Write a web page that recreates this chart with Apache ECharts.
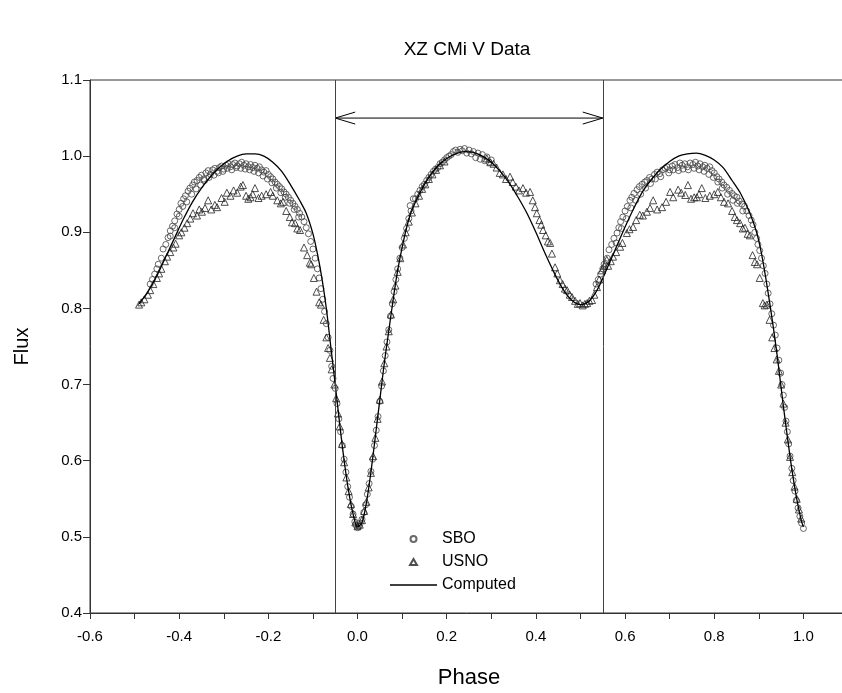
<!DOCTYPE html>
<html>
<head>
<meta charset="utf-8">
<script src="https://cdn.jsdelivr.net/npm/echarts@6/dist/echarts.min.js"></script>
<style>
  html, body { margin: 0; padding: 0; background: #fff; }
  #charts { width: 842px; height: 693px; }
</style>
</head>
<body>
<div id="charts"></div>
<script>
// phase / flux pairs
var sboLeft = [
  [-0.465,0.832],[-0.46,0.838],[-0.455,0.845],[-0.45,0.852],[-0.447,0.858],[-0.44,0.866],[-0.436,0.878],[-0.43,0.884],
  [-0.425,0.893],[-0.42,0.902],[-0.42,0.895],[-0.415,0.908],[-0.41,0.915],[-0.41,0.906],[-0.405,0.924],[-0.40,0.930],[-0.40,0.921],
  [-0.396,0.938],[-0.392,0.934],[-0.39,0.944],[-0.386,0.948],[-0.383,0.940],[-0.38,0.954],[-0.376,0.958],[-0.372,0.950],
  [-0.37,0.962],[-0.366,0.966],[-0.362,0.957],[-0.36,0.968],[-0.355,0.972],[-0.352,0.962],[-0.35,0.975],[-0.345,0.970],
  [-0.343,0.968],[-0.34,0.978],[-0.335,0.981],[-0.333,0.972],[-0.33,0.976],[-0.325,0.982],[-0.322,0.975],[-0.32,0.984],
  [-0.315,0.980],[-0.312,0.978],[-0.31,0.985],[-0.305,0.987],[-0.302,0.980],[-0.30,0.983],[-0.295,0.988],[-0.292,0.984],
  [-0.29,0.990],[-0.285,0.986],[-0.282,0.982],[-0.28,0.989],[-0.275,0.991],[-0.272,0.985],[-0.27,0.987],[-0.265,0.990],
  [-0.262,0.984],[-0.26,0.992],[-0.255,0.988],[-0.252,0.983],[-0.25,0.990],[-0.245,0.986],[-0.242,0.982],[-0.24,0.989],
  [-0.235,0.985],[-0.232,0.980],[-0.23,0.988],[-0.225,0.984],[-0.222,0.978],[-0.22,0.986],[-0.215,0.982],[-0.212,0.974],
  [-0.21,0.979],[-0.205,0.981],[-0.202,0.970],[-0.20,0.976],[-0.195,0.973],[-0.192,0.965],[-0.19,0.970],[-0.185,0.966],
  [-0.182,0.958],[-0.18,0.963],[-0.175,0.960],[-0.172,0.952],[-0.17,0.957],[-0.165,0.953],[-0.162,0.946],[-0.16,0.950],
  [-0.155,0.946],[-0.152,0.938],[-0.15,0.942],[-0.145,0.938],[-0.142,0.930],[-0.14,0.934],[-0.135,0.930],[-0.132,0.920],
  [-0.13,0.925],[-0.125,0.920],[-0.12,0.914],[-0.115,0.906],[-0.11,0.898],[-0.105,0.888],[-0.10,0.878],[-0.095,0.866],
  [-0.09,0.852],[-0.086,0.840],[-0.082,0.826],[-0.078,0.812],[-0.074,0.796],[-0.07,0.780],[-0.066,0.762],[-0.062,0.745],
  [-0.058,0.724],[-0.055,0.708]
];
var sboEclipse = [
  [-0.05,0.695],[-0.046,0.675],[-0.042,0.655],[-0.038,0.638],[-0.034,0.620],[-0.03,0.602],[-0.026,0.585],[-0.022,0.566],
  [-0.018,0.552],[-0.014,0.540],[-0.01,0.530],[-0.006,0.520],[-0.003,0.515],[0.0,0.512],[0.003,0.514],[0.006,0.518],
  [0.01,0.523],[0.014,0.532],[0.018,0.542],[0.022,0.556],[0.026,0.570],[0.03,0.586],[0.034,0.602],[0.038,0.620],
  [0.042,0.640],[0.046,0.658],[0.05,0.678],[0.054,0.698],[0.058,0.718],[0.062,0.738],[0.066,0.756],[0.07,0.772],
  [0.074,0.790],[0.078,0.806],[0.082,0.822],[0.086,0.838],[0.09,0.852],[0.095,0.866],[0.10,0.880],[0.105,0.892],
  [0.11,0.905],[0.115,0.918],[0.118,0.935],[0.12,0.928],[0.125,0.944],[0.13,0.944],[0.135,0.950],[0.14,0.955],
  [0.145,0.960],[0.15,0.963],[0.155,0.968],[0.16,0.972],[0.165,0.976],[0.17,0.980],[0.175,0.983],[0.18,0.985],
  [0.185,0.990],[0.19,0.992],[0.195,0.995],[0.20,0.998],[0.205,1.000],[0.21,1.002],[0.215,1.006],[0.22,1.008],
  [0.225,1.005],[0.23,1.009],[0.235,1.007],[0.24,1.010],[0.245,1.004],[0.25,1.008],[0.255,1.003],[0.26,1.006],
  [0.265,0.998],[0.27,1.004],[0.275,0.996],[0.28,1.002],[0.285,0.994],[0.29,0.999],[0.295,0.992],[0.30,0.995]
];
var sboRight = [
  [0.535,0.832],[0.54,0.838],[0.545,0.845],[0.55,0.852],[0.553,0.858],[0.56,0.866],[0.564,0.877],[0.57,0.884],
  [0.575,0.892],[0.58,0.886],[0.582,0.899],[0.586,0.906],[0.59,0.914],[0.592,0.905],[0.595,0.920],[0.6,0.928],[0.603,0.918],
  [0.605,0.934],[0.611,0.942],[0.613,0.932],[0.615,0.946],[0.62,0.951],[0.624,0.942],[0.627,0.956],[0.632,0.960],
  [0.635,0.950],[0.638,0.963],[0.644,0.966],[0.646,0.958],[0.649,0.968],[0.655,0.972],[0.657,0.964],[0.66,0.970],
  [0.666,0.976],[0.668,0.970],[0.672,0.979],[0.678,0.977],[0.68,0.973],[0.684,0.982],[0.69,0.984],[0.694,0.986],
  [0.698,0.978],[0.7,0.982],[0.706,0.987],[0.708,0.982],[0.712,0.989],[0.718,0.985],[0.72,0.981],[0.723,0.991],
  [0.728,0.988],[0.73,0.983],[0.734,0.990],[0.74,0.986],[0.742,0.982],[0.746,0.991],[0.752,0.989],[0.755,0.984],
  [0.758,0.992],[0.763,0.987],[0.766,0.982],[0.768,0.990],[0.774,0.986],[0.777,0.980],[0.779,0.988],[0.784,0.984],
  [0.788,0.976],[0.79,0.986],[0.795,0.981],[0.798,0.972],[0.8,0.978],[0.806,0.973],[0.808,0.966],[0.811,0.970],
  [0.817,0.966],[0.818,0.958],[0.822,0.962],[0.828,0.959],[0.83,0.950],[0.834,0.955],[0.84,0.951],[0.842,0.942],
  [0.845,0.948],[0.851,0.946],[0.852,0.938],[0.856,0.941],[0.862,0.937],[0.864,0.928],[0.868,0.934],[0.873,0.928],
  [0.878,0.922],[0.883,0.916],[0.887,0.910],[0.891,0.900],[0.895,0.892],[0.898,0.884],[0.902,0.876],[0.906,0.866],
  [0.91,0.856],[0.914,0.846],[0.918,0.832],[0.921,0.820],[0.925,0.806],[0.929,0.793],[0.933,0.778],[0.937,0.765],
  [0.941,0.748],[0.945,0.732],[0.949,0.715],[0.952,0.700],[0.955,0.686],[0.958,0.670],[0.961,0.652],[0.964,0.638],
  [0.967,0.622],[0.97,0.606],[0.974,0.590],[0.977,0.574],[0.981,0.560],[0.984,0.548],[0.988,0.538],[0.992,0.527],
  [0.996,0.518],[1.0,0.511]
];
var usnoLeft = [
  [-0.49,0.805],[-0.485,0.808],[-0.478,0.812],[-0.47,0.818],[-0.465,0.824],[-0.458,0.832],[-0.45,0.840],[-0.445,0.846],
  [-0.44,0.852],[-0.432,0.862],[-0.427,0.868],[-0.42,0.874],[-0.413,0.880],[-0.408,0.885],[-0.40,0.896],[-0.395,0.900],
  [-0.388,0.906],[-0.382,0.912],[-0.375,0.918],[-0.369,0.925],[-0.36,0.922],[-0.355,0.930],[-0.349,0.927],[-0.342,0.932],
  [-0.335,0.942],[-0.328,0.930],[-0.32,0.936],[-0.315,0.933],[-0.305,0.945],[-0.298,0.940],[-0.293,0.952],[-0.285,0.948],
  [-0.278,0.955],[-0.27,0.952],[-0.262,0.960],[-0.257,0.962],[-0.25,0.948],[-0.245,0.944],[-0.24,0.946],[-0.235,0.950],
  [-0.23,0.958],[-0.222,0.945],[-0.215,0.948],[-0.205,0.950],[-0.195,0.953],[-0.19,0.948],[-0.18,0.942],[-0.172,0.938],
  [-0.167,0.940],[-0.16,0.928],[-0.152,0.920],[-0.147,0.913],[-0.14,0.912],[-0.135,0.905],[-0.129,0.903],[-0.12,0.880],
  [-0.113,0.870],[-0.107,0.860],[-0.104,0.858],[-0.098,0.840],[-0.092,0.822],[-0.086,0.808],[-0.082,0.805],[-0.076,0.785],
  [-0.07,0.762],[-0.066,0.748],[-0.062,0.735],[-0.058,0.720]
];
var usnoMid = [
  [-0.052,0.700],[-0.048,0.682],[-0.044,0.662],[-0.04,0.645],[-0.035,0.622],[-0.03,0.598],[-0.025,0.578],[-0.02,0.560],
  [-0.015,0.543],[-0.01,0.530],[-0.005,0.519],[0.0,0.514],[0.005,0.516],[0.01,0.522],[0.015,0.534],[0.02,0.546],
  [0.025,0.565],[0.03,0.584],[0.035,0.606],[0.04,0.630],[0.045,0.655],[0.05,0.680],[0.055,0.704],[0.06,0.728],
  [0.065,0.750],[0.07,0.770],[0.075,0.792],[0.08,0.812],[0.085,0.830],[0.09,0.848],[0.096,0.866],[0.102,0.884],
  [0.108,0.900],[0.115,0.914],[0.122,0.926],[0.13,0.938],[0.138,0.948],[0.145,0.957],[0.152,0.963],[0.16,0.970],
  [0.168,0.976],[0.176,0.982],[0.185,0.988],[0.195,0.993],[0.29,0.997],[0.298,0.992],[0.305,0.990],[0.312,0.985],
  [0.319,0.978],[0.326,0.976],[0.333,0.970],[0.342,0.973],[0.348,0.966],[0.355,0.960],[0.362,0.955],[0.371,0.958],
  [0.378,0.952],[0.387,0.953],[0.393,0.942],[0.398,0.933],[0.402,0.925],[0.408,0.916],[0.412,0.910],[0.416,0.903],
  [0.422,0.896],[0.427,0.888],[0.432,0.886],[0.436,0.872],[0.443,0.854],[0.448,0.846],[0.454,0.837],[0.46,0.832],
  [0.465,0.826],[0.47,0.824],[0.476,0.818],[0.481,0.815],[0.488,0.810],[0.494,0.806],[0.499,0.807],[0.505,0.804]
];
var usnoRight = [
  [0.51,0.806],[0.515,0.807],[0.52,0.810],[0.526,0.811],[0.531,0.818],[0.537,0.828],[0.542,0.838],[0.548,0.850],
  [0.553,0.856],[0.559,0.864],[0.562,0.856],[0.568,0.862],[0.573,0.868],[0.58,0.874],[0.589,0.881],[0.594,0.886],
  [0.604,0.899],[0.61,0.904],[0.618,0.907],[0.625,0.916],[0.633,0.923],[0.64,0.922],[0.649,0.927],[0.656,0.932],
  [0.663,0.942],[0.672,0.930],[0.683,0.933],[0.692,0.940],[0.701,0.953],[0.708,0.946],[0.719,0.956],[0.726,0.952],
  [0.735,0.949],[0.741,0.962],[0.748,0.944],[0.755,0.946],[0.761,0.946],[0.766,0.950],[0.772,0.958],[0.78,0.945],
  [0.79,0.948],[0.8,0.950],[0.808,0.953],[0.815,0.946],[0.822,0.940],[0.831,0.938],[0.84,0.928],[0.846,0.920],
  [0.851,0.916],[0.858,0.912],[0.864,0.905],[0.869,0.906],[0.875,0.898],[0.88,0.896],[0.886,0.870],[0.891,0.861],
  [0.896,0.858],[0.902,0.840],[0.909,0.807],[0.913,0.804],[0.918,0.805],[0.924,0.785],[0.93,0.762],[0.935,0.748],
  [0.94,0.733],[0.945,0.718],[0.95,0.700],[0.955,0.675],[0.96,0.650],[0.965,0.628],[0.97,0.605],[0.975,0.585],
  [0.98,0.566],[0.985,0.550],[0.99,0.536],[0.995,0.524]
];
var computed = [
  [-0.49,0.806],[-0.47,0.822],[-0.45,0.843],[-0.43,0.868],[-0.41,0.893],[-0.39,0.918],[-0.37,0.940],[-0.35,0.958],
  [-0.33,0.973],[-0.31,0.985],[-0.29,0.994],[-0.27,1.000],[-0.25,1.003],[-0.23,1.003],[-0.21,1.000],[-0.19,0.992],
  [-0.17,0.980],[-0.15,0.962],[-0.13,0.942],[-0.115,0.925],[-0.10,0.898],[-0.09,0.872],[-0.08,0.840],[-0.07,0.800],
  [-0.06,0.750],[-0.05,0.700],[-0.04,0.648],[-0.03,0.600],[-0.02,0.560],[-0.01,0.530],[0.00,0.513],[0.01,0.519],
  [0.02,0.545],[0.03,0.585],[0.04,0.632],[0.05,0.680],[0.06,0.728],[0.07,0.770],[0.08,0.812],[0.09,0.850],
  [0.10,0.880],[0.11,0.906],[0.12,0.926],[0.14,0.952],[0.16,0.972],[0.18,0.987],[0.20,0.997],[0.22,1.003],
  [0.24,1.006],[0.26,1.005],[0.28,1.000],[0.30,0.992],[0.32,0.980],[0.34,0.965],[0.36,0.946],[0.38,0.925],
  [0.40,0.900],[0.42,0.873],[0.44,0.848],[0.46,0.826],[0.48,0.811],[0.50,0.805],[0.52,0.810],[0.54,0.827],
  [0.56,0.853],[0.58,0.880],[0.60,0.907],[0.62,0.932],[0.64,0.954],[0.66,0.970],[0.68,0.983],[0.70,0.993],
  [0.72,1.000],[0.74,1.003],[0.76,1.004],[0.78,1.001],[0.80,0.995],[0.82,0.985],[0.84,0.968],[0.86,0.950],
  [0.88,0.925],[0.895,0.900],[0.905,0.875],[0.915,0.842],[0.925,0.805],[0.935,0.765],[0.945,0.720],[0.955,0.672],
  [0.965,0.627],[0.975,0.585],[0.985,0.550],[0.995,0.522],[1.00,0.513]
];
var markerPhases = [-0.05, 0.55];   // vertical lines
var arrowSpan = [[-0.05, 0.55, 1.05]]; // double arrow: from, to, flux level

var chart = echarts.init(document.getElementById('charts'));
var font = 'Liberation Sans, Arial, sans-serif';

function arrowItem(params, api) {
    var a = api.coord([api.value(0), api.value(2)]);
    var b = api.coord([api.value(1), api.value(2)]);
    var st = { stroke: '#000', lineWidth: 1 };
    function seg(x1, y1, x2, y2) {
        return { type: 'line', shape: { x1: x1, y1: y1, x2: x2, y2: y2 }, style: st };
    }
    return {
        type: 'group',
        children: [
            seg(a[0], a[1], b[0], b[1]),
            seg(a[0], a[1], a[0] + 20, a[1] - 6),
            seg(a[0], a[1], a[0] + 20, a[1] + 6),
            seg(b[0], b[1], b[0] - 20, b[1] - 6),
            seg(b[0], b[1], b[0] - 20, b[1] + 6)
        ]
    };
}

var sboStyle = { color: 'rgba(0,0,0,0)', borderColor: '#444', borderWidth: 1 };
var usnoStyle = { color: 'rgba(0,0,0,0)', borderColor: '#222', borderWidth: 1 };

var option = {
    animation: false,
    backgroundColor: '#fff',
    textStyle: { fontFamily: font },
    title: {
        text: 'XZ CMi V Data',
        left: 462,
        textAlign: 'center',
        top: 35,
        textStyle: { fontFamily: font, fontSize: 19, fontWeight: 'normal', color: '#000' }
    },
    legend: {
        data: [
            { name: 'SBO', icon: 'circle' },
            { name: 'USNO', icon: 'path://M0,-1L0.866,0.5L-0.866,0.5Z' },
            { name: 'Computed', icon: 'path://M0,0L47,0L47,1.3L0,1.3Z', itemStyle: { color: '#000', borderWidth: 0 } }
        ],
        orient: 'vertical',
        left: 385,
        top: 526,
        itemWidth: 47,
        itemHeight: 6,
        itemGap: 7,
        symbolKeepAspect: true,
        textStyle: { fontFamily: font, fontSize: 16, color: '#000' }
    },
    grid: {
        left: 90, top: 80, width: 758, height: 533,
        outerBoundsMode: 'none',
        show: true, borderColor: '#333', borderWidth: 1
    },
    xAxis: {
        type: 'value',
        min: -0.6, max: 1.1, interval: 0.1,
        name: 'Phase',
        nameLocation: 'middle',
        nameGap: 54,
        nameTextStyle: { fontFamily: font, fontSize: 22, color: '#000' },
        axisLine: { show: true, onZero: false, lineStyle: { color: '#333' } },
        axisTick: { show: true, length: 6, lineStyle: { color: '#333' } },
        splitLine: { show: false },
        axisLabel: {
            color: '#000', fontSize: 15, margin: 16, showMaxLabel: false,
            formatter: function (v) {
                var k = Math.round(v * 10);
                return (k % 2 === 0 && v < 1.05) ? v.toFixed(1) : '';
            }
        }
    },
    yAxis: {
        type: 'value',
        min: 0.4, max: 1.1, interval: 0.1,
        name: 'Flux',
        nameLocation: 'middle',
        nameGap: 58,
        nameTextStyle: { fontFamily: font, fontSize: 20, color: '#000' },
        axisLine: { show: true, onZero: false, lineStyle: { color: '#333' } },
        axisTick: { show: true, length: 7, lineStyle: { color: '#333' } },
        splitLine: { show: false },
        axisLabel: {
            color: '#000', fontSize: 15, margin: 8,
            formatter: function (v) { return v.toFixed(1); }
        }
    },
    series: [
        {
            name: 'SBO', type: 'scatter', symbol: 'circle', symbolSize: 6,
            itemStyle: sboStyle,
            data: sboLeft.concat(sboEclipse, sboRight)
        },
        {
            name: 'USNO', type: 'scatter', symbol: 'triangle', symbolSize: 7,
            itemStyle: usnoStyle,
            data: usnoLeft.concat(usnoMid, usnoRight)
        },
        {
            name: 'Computed', type: 'line', symbol: 'none', smooth: 0.3,
            lineStyle: { color: '#000', width: 1.3 },
            itemStyle: { color: '#000' },
            data: computed,
            markLine: {
                silent: true, symbol: 'none',
                label: { show: false },
                lineStyle: { color: '#444', type: 'solid', width: 1 },
                data: markerPhases.map(function (p) { return { xAxis: p }; })
            }
        },
        {
            type: 'custom', silent: true,
            renderItem: arrowItem,
            data: arrowSpan
        }
    ]
};

chart.setOption(option);
</script>
</body>
</html>
